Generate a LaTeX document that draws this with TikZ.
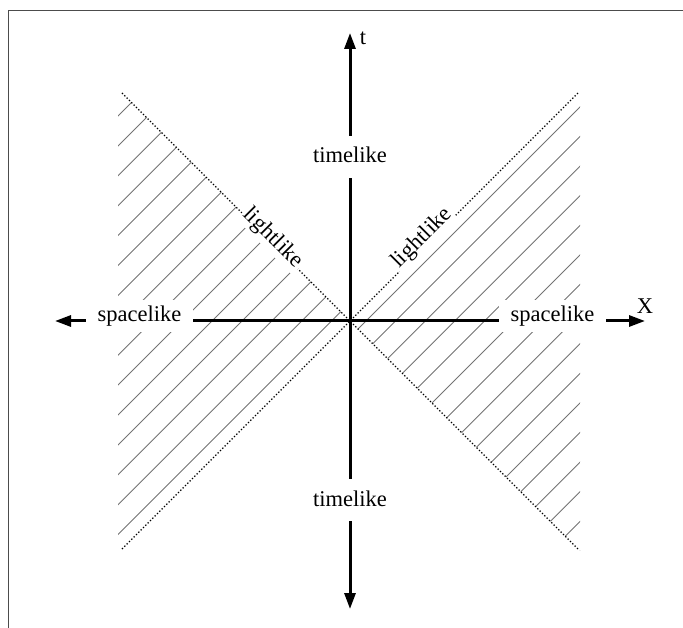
\documentclass[tikz,border=0pt]{standalone}
\usepackage{fontspec}
\setmainfont{Liberation Serif}
\usetikzlibrary{arrows.meta}
\begin{document}
\begin{tikzpicture}[x=1pt,y=-1pt,
  axisline/.style={line width=3pt,-{Triangle[length=16pt,width=11pt]}},
  hatchline/.style={black!55,line width=0.9pt},
  lightline/.style={dotted,line width=1.3pt},
  framelines/.style={black!70,line width=1pt},
  lbl/.style={fill=white,font=\fontsize{22.5}{27}\selectfont,text height=17pt,text depth=5pt,inner xsep=12pt,inner ysep=10pt,anchor=base},
  slbl/.style={lbl,inner ysep=5pt},
  llbl/.style={fill=white,font=\fontsize{22.5}{27}\selectfont,inner sep=2pt,anchor=base},
  axlbl/.style={font=\fontsize{22.5}{27}\selectfont,inner sep=0pt}]
\useasboundingbox (0,0) rectangle (683,628);
% frame
\draw[framelines] (8,628) -- (8,11) -- (683,11);
% coordinates
\coordinate (O) at (350,321);
\coordinate (tp) at (350,33);
\coordinate (tm) at (350,609);
\coordinate (xp) at (645,321);
\coordinate (xm) at (55,321);
\coordinate (ul) at (122,93);
\coordinate (ll) at (122,549);
\coordinate (ur) at (578,93);
\coordinate (lr) at (578,549);
% hatching left
\begin{scope}
  \clip (O) -- (118,89) -- (118,553) -- cycle;
  \foreach \k in {0,...,14}{
    \pgfmathsetmacro{\c}{234+29.9*\k}
    \draw[hatchline] (\c-700,700) -- (\c,0);
  }
\end{scope}
% hatching right
\begin{scope}
  \clip (O) -- (580,91) -- (580,551) -- cycle;
  \foreach \k in {0,...,15}{
    \pgfmathsetmacro{\c}{687+29.6*\k}
    \draw[hatchline] (\c-700,700) -- (\c,0);
  }
\end{scope}
% light cone
\draw[lightline] (ul) -- (O) -- (lr);
\draw[lightline] (ll) -- (O) -- (ur);
% axes
\draw[axisline] (O) -- (tp);
\draw[axisline] (O) -- (tm);
\draw[axisline] (O) -- (xp);
\draw[axisline] (O) -- (xm);
% labels
\node[lbl] (tl1) at (350,163) {timelike};
\node[lbl] (tl2) at (350,506) {timelike};
\node[slbl] (sl1) at (139.5,322) {spacelike};
\node[slbl] (sl2) at (552.5,322) {spacelike};
\node[llbl,rotate=-45] (ll1) at (269,242) {lightlike};
\node[llbl,rotate=45] (ll2) at (426,242) {lightlike};
\node[axlbl] (tlab) at (363,38) {t};
\node[axlbl] (xlab) at (645,306) {X};
\end{tikzpicture}
\end{document}
